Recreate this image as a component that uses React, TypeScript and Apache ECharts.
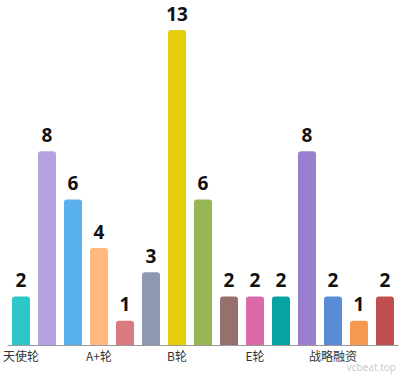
import React, { useEffect, useRef } from "react";
import * as echarts from "echarts";

const categories = ["天使轮", "A轮", "Pre-A轮", "A+轮", "Pre-B轮", "B+轮", "B轮", "C轮", "D轮", "E轮", "新三板", "IPO", "战略融资", "并购", "未透露"];
const values = [2, 8, 6, 4, 1, 3, 13, 6, 2, 2, 2, 8, 2, 1, 2];
const colors = ["#2ec7c9", "#b6a2de", "#5ab1ef", "#ffb980", "#d87a80", "#8d98b3", "#e5cf0d", "#97b552", "#95706d", "#dc69aa", "#07a2a4", "#9a7fd1", "#588dd5", "#f5994e", "#c05050"];

export default function App() {
  const ref = useRef<HTMLDivElement>(null);
  useEffect(() => {
    if (!ref.current) return;
    const chart = echarts.init(ref.current, undefined, { renderer: "svg" });
    chart.setOption({
      animation: false,
      grid: { left: 8, right: 2, top: 30, bottom: 29 },
      xAxis: {
        type: "category",
        data: categories,
        axisLine: { lineStyle: { color: "#999", width: 1 } },
        axisTick: { interval: (i: number) => i % 3 === 2, length: 4, lineStyle: { color: "#999" } },
        axisLabel: {
          interval: 2,
          color: "#333",
          fontSize: 12,
          fontFamily: "Noto Sans CJK SC",
          margin: 4,
        },
      },
      yAxis: { type: "value", min: 0, max: 13, show: false, splitLine: { show: false } },
      series: [
        {
          type: "bar",
          barWidth: 18,
          data: values.map((v, i) => ({ value: v, itemStyle: { color: colors[i] } })),
          itemStyle: { borderRadius: [3, 3, 0, 0] },
          label: {
            show: true,
            position: "top",
            distance: 7,
            color: "#111",
            fontSize: 19,
            fontWeight: "bold",
            fontFamily: "Open Sans",
          },
        },
      ],
      graphic: [
        {
          type: "text",
          right: 4,
          bottom: 2,
          style: { text: "vcbeat.top", fill: "#ccc", fontSize: 10, fontFamily: "Noto Sans" },
        },
      ],
    });
    return () => chart.dispose();
  }, []);
  return <div ref={ref} style={{ width: 400, height: 374, position: "absolute", left: 0, top: 0 }} />;
}
